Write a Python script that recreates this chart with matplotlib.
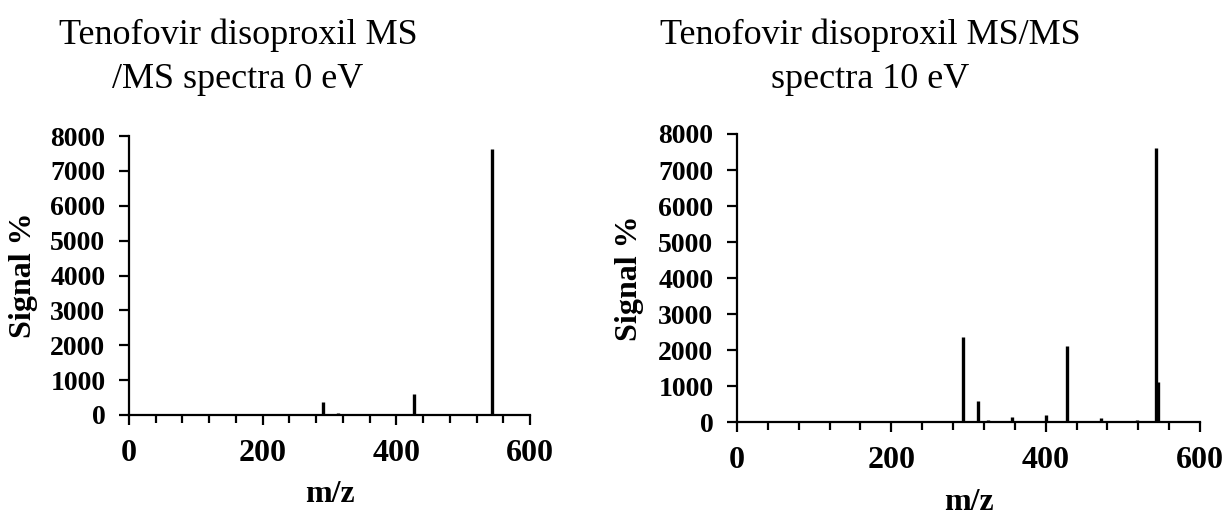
import matplotlib
matplotlib.use("Agg")
import matplotlib.pyplot as plt
from matplotlib.ticker import MultipleLocator

plt.rcParams['font.family'] = ['Liberation Serif', 'DejaVu Serif']

# Spectrum at 0 eV
mz_0ev = [291, 312, 352, 396, 427, 469, 514, 543]
sig_0ev = [360, 70, 25, 30, 600, 25, 30, 7620]

# Spectrum at 10 eV
mz_10ev = [177, 205, 228, 293, 300, 312, 325, 336, 356, 369, 384, 400, 412,
           428, 440, 455, 472, 485, 500, 518, 530, 543, 545]
sig_10ev = [20, 40, 25, 2370, 30, 570, 50, 30, 150, 30, 35, 190, 30,
            2110, 40, 40, 110, 30, 35, 60, 30, 7600, 1100]

titles = ["Tenofovir disoproxil MS\n/MS spectra 0 eV",
          "Tenofovir disoproxil MS/MS\nspectra 10 eV"]
xlabel = "m/z"
ylabel = "Signal %"

W, H = 1231, 517
fig = plt.figure(figsize=(W / 100, H / 100), dpi=100)

def px_axes(x0, x1, ytop, ybot):
    return fig.add_axes([x0 / W, 1 - ybot / H, (x1 - x0) / W, (ybot - ytop) / H])

ax1 = px_axes(129, 530, 136, 415)
ax2 = px_axes(737, 1200, 134, 422)

for ax, mz, sig, ylx, xly in [(ax1, mz_0ev, sig_0ev, 24, 495), (ax2, mz_10ev, sig_10ev, 630, 502)]:
    ax.vlines(mz, 0, sig, color='black', linewidth=2.4)
    ax.set_xlim(0, 600)
    ax.set_ylim(0, 8000)
    ax.xaxis.set_major_locator(MultipleLocator(200))
    ax.xaxis.set_minor_locator(MultipleLocator(40))
    ax.yaxis.set_major_locator(MultipleLocator(1000))
    for s in ['top', 'right']:
        ax.spines[s].set_visible(False)
    for s in ['left', 'bottom']:
        ax.spines[s].set_linewidth(1.6)
    ax.tick_params(axis='x', which='major', direction='out', length=7.5, width=1.6, labelsize=23, pad=10)
    ax.tick_params(axis='x', which='minor', direction='out', length=6, width=1.6)
    ax.tick_params(axis='y', which='major', direction='out', length=7, width=1.6, labelsize=20, pad=10)
    for lab in ax.get_xticklabels() + ax.get_yticklabels():
        lab.set_fontweight('bold')
    ax.set_xlabel(xlabel, fontsize=23, fontweight='bold')
    ax.set_ylabel(ylabel, fontsize=23, fontweight='bold')
    inv = ax.transAxes.inverted()
    x_ax, _ = inv.transform((ylx, 0))
    _, y_ax = inv.transform((0, H - xly))
    ax.yaxis.set_label_coords(x_ax, 0.5)
    ax.yaxis.label.set_va('center')
    ax.xaxis.set_label_coords(0.5, y_ax)
    ax.xaxis.label.set_va('center')

fig.text(238 / W, 1 - 57 / H, titles[0], ha='center', va='center', fontsize=26, linespacing=1.45)
fig.text(870 / W, 1 - 57 / H, titles[1], ha='center', va='center', fontsize=26, linespacing=1.45)

fig.savefig("out.png", dpi=100)
